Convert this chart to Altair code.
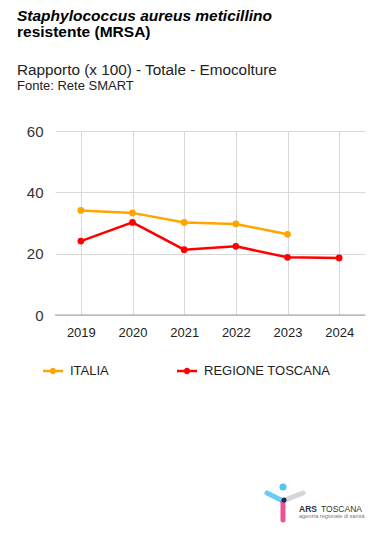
import altair as alt
import pandas as pd

years = ["2019", "2020", "2021", "2022", "2023", "2024"]
italia = [34.1, 33.3, 30.2, 29.7, 26.3, None]
toscana = [24.1, 30.2, 21.3, 22.4, 18.8, 18.6]
series = ["ITALIA", "REGIONE TOSCANA"]
colors = ["#FFA500", "#FF0000"]
y_ticks = [0, 20, 40, 60]

rows = []
for y, v in zip(years, italia):
    if v is not None:
        rows.append({"anno": y, "serie": series[0], "valore": v})
for y, v in zip(years, toscana):
    if v is not None:
        rows.append({"anno": y, "serie": series[1], "valore": v})
df = pd.DataFrame(rows)

FONT = "Liberation Sans"
W, H = 310, 184

sym = ("M-1,-0.12L-0.3,-0.12L-0.3,0.12L-1,0.12Z "
       "M0.3,-0.12L1,-0.12L1,0.12L0.3,0.12Z "
       "M-0.32,0A0.32,0.32 0 1,1 0.32,0A0.32,0.32 0 1,1 -0.32,0Z")

color = alt.Color(
    "serie:N",
    scale=alt.Scale(domain=series, range=colors),
    legend=alt.Legend(
        title=None, orient="none", direction="horizontal",
        legendX=-12, legendY=230,
        symbolType=sym,
        symbolSize=400, symbolStrokeWidth=0,
        labelFont=FONT, labelFontSize=13, labelColor="#222",
        columnPadding=68, labelOffset=7,
    ),
)

xenc = alt.X("anno:O", scale=alt.Scale(domain=years, type="point", padding=0.5),
             axis=alt.Axis(title=None, labelAngle=0, domain=False, ticks=False,
                           grid=True, gridColor="#d9d9d9", labelFont=FONT,
                           labelFontSize=13, labelColor="#222", labelPadding=11))
yenc = alt.Y("valore:Q", scale=alt.Scale(domain=[0, 60], nice=False),
             axis=alt.Axis(title=None, values=y_ticks, domain=False, ticks=False,
                           grid=True, gridColor="#d9d9d9", labelFont=FONT,
                           labelFontSize=15, labelColor="#333", labelPadding=12))

base = alt.Chart(df).encode(x=xenc, y=yenc, color=color)
line = base.mark_line(strokeWidth=2.5)
pts = base.mark_point(filled=True, size=45, opacity=1)

one = pd.DataFrame({"k": [0]})
zero = alt.Chart(one).mark_rule(color="#9e9e9e", strokeWidth=1).encode(y=alt.datum(0))

def txt(s, x, y, size, weight="normal", style="normal", color="#222"):
    return alt.Chart(one).mark_text(
        text=s, align="left", baseline="alphabetic", font=FONT, fontSize=size,
        fontWeight=weight, fontStyle=style, color=color,
    ).encode(x=alt.value(x), y=alt.value(y))

t1 = txt("Staphylococcus aureus meticillino", -38, -110, 15.5, "bold", "italic", "#000")
t2 = txt("resistente (MRSA)", -38, -94, 15.5, "bold", "normal", "#000")
t3 = txt("Rapporto (x 100) - Totale - Emocolture", -38, -56, 15.3, "normal", "normal", "#222")
t4 = txt("Fonte: Rete SMART", -38, -41, 13, "normal", "normal", "#222")

def seg(x1, y1, x2, y2, c, w=5):
    return alt.Chart(one).mark_rule(color=c, strokeWidth=w, strokeCap="round", opacity=0.85).encode(
        x=alt.value(x1), y=alt.value(y1), x2=alt.value(x2), y2=alt.value(y2))

logo = [
    seg(212, 362, 228, 370, "#4cc6f2"),
    seg(230, 369, 248, 362, "#cfcfcf"),
    seg(228, 371, 228, 389, "#e8348a"),
    alt.Chart(one).mark_point(filled=True, size=50, color="#4cc6f2", opacity=1).encode(
        x=alt.value(228), y=alt.value(356)),
    alt.Chart(one).mark_point(filled=True, size=25, color="#1a2a5a", opacity=1).encode(
        x=alt.value(229), y=alt.value(369)),
    txt("ARS", 244, 381, 8.5, "bold", "normal", "#333"),
    txt("TOSCANA", 266, 381, 8.5, "normal", "normal", "#333"),
    txt("agenzia regionale di sanità", 244, 387, 5.5, "normal", "normal", "#777"),
]

chart = alt.layer(line, pts, zero, t1, t2, t3, t4, *logo).properties(
    width=W, height=H,
    autosize=alt.AutoSizeParams(type="none"),
    padding={"left": 47, "top": 123, "right": 9, "bottom": 224},
).configure_view(stroke=None)

chart.save("out.html", embed_options={"renderer": "svg", "actions": False})
